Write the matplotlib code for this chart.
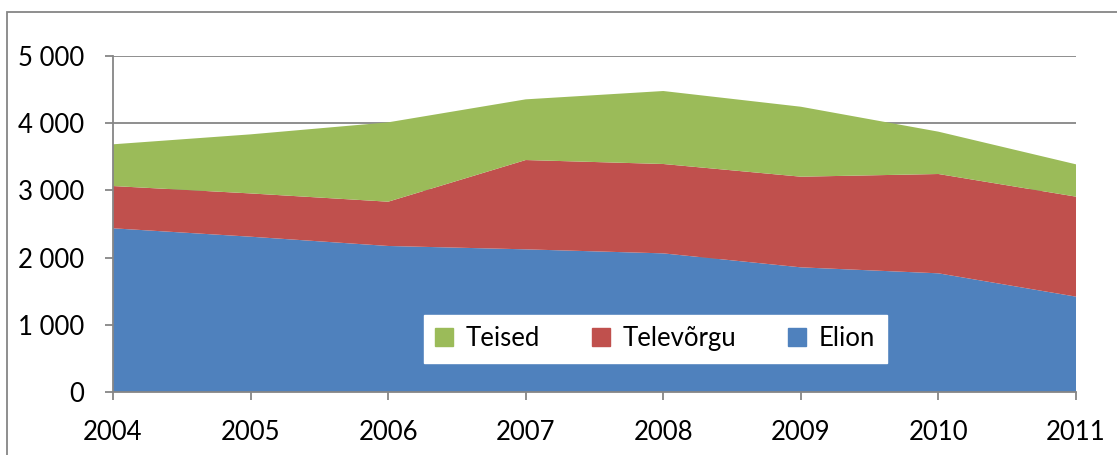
import matplotlib.pyplot as plt
from matplotlib.patches import Rectangle, Patch
import numpy as np

aastad = [2004, 2005, 2006, 2007, 2008, 2009, 2010, 2011]
elion = [2436, 2311, 2173, 2123, 2063, 1855, 1766, 1419]
televorgu = [629, 644, 659, 1329, 1330, 1349, 1478, 1488]
teised = [621, 879, 1181, 903, 1086, 1041, 630, 481]

nimed = ["Elion", "Televõrgu", "Teised"]
varvid = ["#4F81BD", "#C0504D", "#9BBB59"]

plt.rcParams['font.family'] = ['Lato', 'DejaVu Sans']

fig = plt.figure(figsize=(11.17, 4.55), dpi=100)
ax = fig.add_axes([113/1117, 1 - 392/455, (1076 - 113)/1117, (392 - 56)/455])

ax.stackplot(aastad, elion, televorgu, teised, colors=varvid, labels=nimed, zorder=2)

ax.set_xlim(2004, 2011)
ax.set_ylim(0, 5000)
ax.set_yticks(np.arange(0, 5001, 1000))
ax.set_yticklabels([f"{v:,}".replace(",", " ") for v in range(0, 5001, 1000)])
ax.set_xticks(aastad)

ax.yaxis.grid(True, color="#868686", linewidth=1.3, zorder=1)
ax.set_axisbelow(True)
for s in ["top", "right"]:
    ax.spines[s].set_visible(False)
for s in ["left", "bottom"]:
    ax.spines[s].set_color("#868686")
    ax.spines[s].set_linewidth(1.3)
ax.tick_params(axis="both", colors="#868686", length=6, width=1.3, labelsize=18.5, labelcolor="black")
ax.tick_params(axis="y", pad=15)
ax.tick_params(axis="x", pad=14)

kasted = [Patch(color=varvid[2]), Patch(color=varvid[1]), Patch(color=varvid[0])]
leg = ax.legend(kasted, ["Teised", "Televõrgu", "Elion"], ncol=3, loc="center",
                bbox_to_anchor=(0.563, 0.158), frameon=True, fancybox=False,
                edgecolor="white", facecolor="white", framealpha=1, fontsize=18.5,
                handlelength=0.7, handleheight=0.7, columnspacing=2.0, handletextpad=0.5,
                borderpad=0.45, borderaxespad=0)

fig.patches.append(Rectangle((7/1117, -0.1), 1.2, 1 - 12/455 + 0.1, transform=fig.transFigure,
                             fill=False, edgecolor="#868686", linewidth=1.3))

fig.savefig("out.png", dpi=100)
